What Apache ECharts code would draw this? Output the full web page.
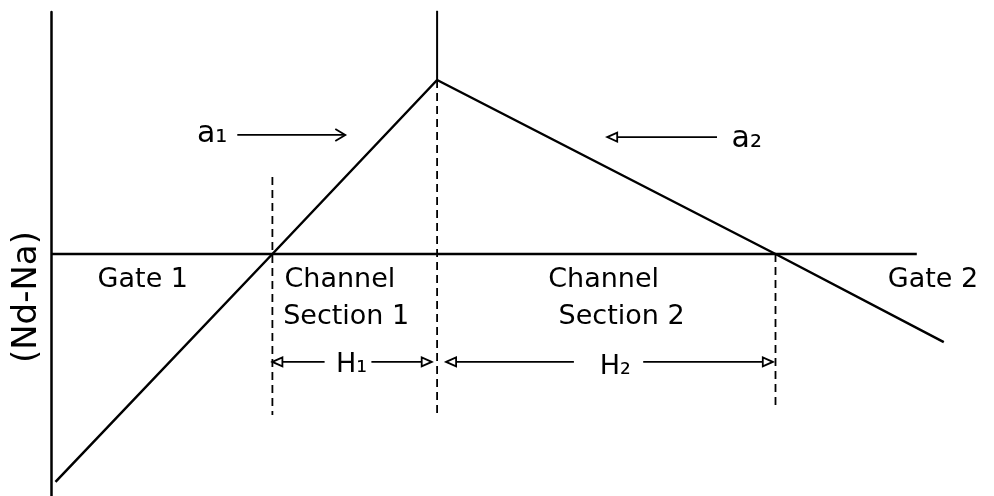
<!DOCTYPE html>
<html>
<head>
<meta charset="utf-8">
<script src="https://cdn.jsdelivr.net/npm/echarts@6/dist/echarts.min.js"></script>
<style>
html,body{margin:0;padding:0;background:#fff;}
#chart{width:994px;height:496px;}
</style>
</head>
<body>
<div id="chart"></div>
<script>
// Doping profile (Nd - Na) along the device
const profileX = [0.5, 24.6, 42.9, 80.5, 99.2];
const profileY = [-94.2, 0, 71.9, 0, -36.4];
// zero reference line
const zeroLineX = [0, 96.2];
// solid marker above peak
const peakMarkX = 42.9;
const peakMarkY = [100.5, 71.9];
// dashed section boundaries
const dashX = [24.6, 42.9, 80.5];
const dashTop = [31.8, 71.9, 0];
const dashBottom = [-66.5, -66.5, -62.4];
// arrows: from x, to x, y, head type (0 = open chevron, 1 = open triangle)
const arrowFrom = [20.7, 74.0, 30.4, 35.6, 58.1, 65.8];
const arrowTo   = [32.7, 61.8, 24.6, 42.3, 43.9, 80.2];
const arrowY    = [49.2, 48.3, -44.6, -44.6, -44.6, -44.6];
const arrowHead = [0, 1, 1, 1, 1, 1];
// text labels
const labelText = ['a\u2081', 'a\u2082', 'Gate 1', 'Channel', 'Section 1', 'Channel', 'Section 2', 'Gate 2', 'H\u2081', 'H\u2082'];
const labelX    = [17.9, 77.3, 10.2, 32.1, 32.8, 61.4, 63.4, 98.0, 33.4, 62.7];
const labelY    = [49.6, 47.5, -10.7, -10.7, -26.0, -10.7, -26.0, -10.7, -45.9, -46.7];
const labelBig  = [true, true, false, false, false, false, false, false, false, false];
const yAxisTitle = '(Nd-Na)';
const yTitleX = -2.6, yTitleY = -17.8;

const INK = '#000000';
const FONT = 'DejaVu Sans';

const chart = echarts.init(document.getElementById('chart'), null, {renderer: 'canvas'});

const series = [];
series.push({
  type: 'line', data: profileX.map((x, i) => [x, profileY[i]]),
  symbol: 'none', lineStyle: {color: INK, width: 2.5}, silent: true, z: 5
});
series.push({
  type: 'line', data: zeroLineX.map(x => [x, 0]),
  symbol: 'none', lineStyle: {color: INK, width: 2.5}, silent: true, z: 4
});
series.push({
  type: 'line', data: peakMarkY.map(y => [peakMarkX, y]),
  symbol: 'none', lineStyle: {color: INK, width: 2}, silent: true, clip: false
});
dashX.forEach((x, i) => {
  series.push({
    type: 'line', data: [[x, dashTop[i]], [x, dashBottom[i]]],
    symbol: 'none', lineStyle: {color: INK, width: 1.8, type: [8, 5]}, silent: true
  });
});
series.push({
  type: 'custom',
  data: arrowFrom.map((x, i) => [x, arrowTo[i], arrowY[i], arrowHead[i]]),
  silent: true, clip: false,
  renderItem: function (params, api) {
    const p1 = api.coord([api.value(0), api.value(2)]);
    const p2 = api.coord([api.value(1), api.value(2)]);
    const dir = p2[0] > p1[0] ? 1 : -1;
    const kind = api.value(3);
    const L = 10, h = kind === 1 ? 4.5 : 6;
    const style = {stroke: INK, lineWidth: 1.8, fill: null};
    const children = [];
    const shaftEnd = kind === 1 ? [p2[0] - dir * L, p2[1]] : p2;
    children.push({type: 'line', shape: {x1: p1[0], y1: p1[1], x2: shaftEnd[0], y2: shaftEnd[1]}, style: style});
    if (kind === 1) {
      children.push({type: 'polygon', shape: {points: [p2, [p2[0] - dir * L, p2[1] - h], [p2[0] - dir * L, p2[1] + h]]}, style: style});
    } else {
      children.push({type: 'polyline', shape: {points: [[p2[0] - dir * L, p2[1] - h], p2, [p2[0] - dir * L, p2[1] + h]]}, style: style});
    }
    return {type: 'group', children: children};
  }
});
series.push({
  type: 'scatter', symbolSize: 0, silent: true, clip: false,
  itemStyle: {opacity: 1},
  data: labelText.map((t, i) => ({
    value: [labelX[i], labelY[i]],
    label: {
      show: true, position: 'inside', formatter: t, opacity: 1,
      fontFamily: FONT, fontSize: labelBig[i] ? 30 : 27, color: INK, textBorderWidth: 0
    }
  }))
});
series.push({
  type: 'scatter', symbolSize: 0, silent: true, clip: false,
  itemStyle: {opacity: 1},
  data: [{value: [yTitleX, yTitleY], label: {show: true, position: 'inside', formatter: yAxisTitle, rotate: 90, opacity: 1, fontFamily: FONT, fontSize: 34, color: INK, textBorderWidth: 0}}]
});

chart.setOption({
  animation: false,
  backgroundColor: '#ffffff',
  grid: {left: 51, right: 43, top: 12, bottom: 0, containLabel: false},
  xAxis: {type: 'value', min: 0, max: 100, show: true,
    axisLine: {show: false}, axisTick: {show: false}, axisLabel: {show: false}, splitLine: {show: false}},
  yAxis: {type: 'value', min: -100, max: 100,
    axisLine: {show: true, onZero: false, lineStyle: {color: INK, width: 2.5}},
    axisTick: {show: false}, axisLabel: {show: false}, splitLine: {show: false}},
  series: series
});
</script>
</body>
</html>
